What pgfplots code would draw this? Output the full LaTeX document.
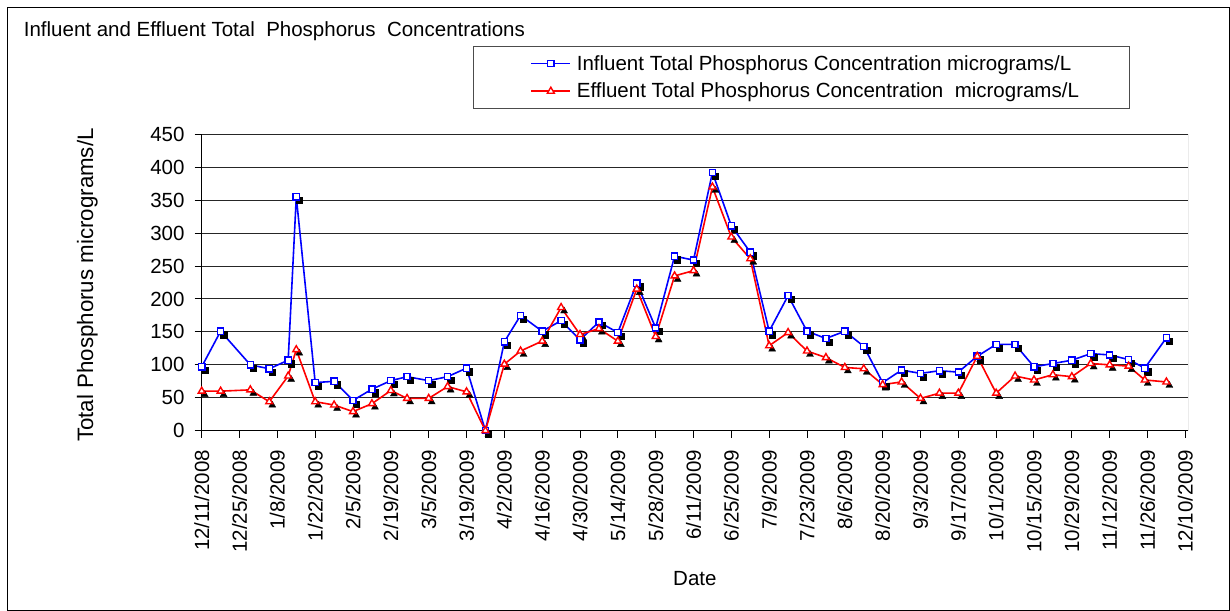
\documentclass[border=0pt]{standalone}
\usepackage{fontspec}
\setmainfont{Liberation Sans}
\usepackage{pgfplots}
\usepackage{pgfplotstable}
\pgfplotsset{compat=1.18}

\definecolor{infblue}{RGB}{0,0,255}
\definecolor{effred}{RGB}{255,0,0}

% day = days after 12/11/2008, inf/eff in micrograms/L
\pgfplotstableread{
day inf eff
0   97  60
7   151 60
18  100 62
25  94  44
32  107 83
35  355 123
42  73  44
49  75  39
56  46  29
63  63  41
70  76  61
76  82  49
84  76  49
91  82  67
98  95  59
105 0   0
112 135 101
118 175 121
126 151 136
133 167 187
140 138 146
147 165 155
154 149 136
161 224 215
168 156 143
175 265 235
182 259 243
189 392 370
196 311 294
203 271 261
210 151 129
217 205 149
224 151 121
231 140 111
238 151 96
245 128 94
252 73  70
259 92  74
266 87  49
273 91  57
280 89  57
287 113 113
294 131 57
301 131 83
308 97  77
315 102 85
322 107 82
329 117 102
336 115 100
343 108 98
349 95  77
357 141 74
}\tpdata

\begin{document}
\begin{tikzpicture}[x=1bp,y=1bp,font=\fontsize{20.5bp}{24bp}\selectfont]
\fill[white] (0,0) rectangle (1230,611);
\draw[black, line width=1bp] (7.5,0.5) rectangle (1229,603.5);
\node[anchor=base west, inner sep=0pt] at (23.7,574.5)
  {Influent and Effluent Total\ \ Phosphorus\ \ Concentrations};

\begin{axis}[
    at={(201.7bp,180.3bp)}, anchor=south west,
    scale only axis, width=986.3bp, height=296.4bp,
    xmin=0, xmax=365, ymin=0, ymax=450,
    axis lines*=left,
    axis line style={-, black, line width=1bp},
    tick align=outside, major tick length=7bp,
    tick style={black, line width=1bp},
    xtick={0,14,...,364},
    xticklabels={12/11/2008,12/25/2008,1/8/2009,1/22/2009,2/5/2009,2/19/2009,
      3/5/2009,3/19/2009,4/2/2009,4/16/2009,4/30/2009,5/14/2009,5/28/2009,
      6/11/2009,6/25/2009,7/9/2009,7/23/2009,8/6/2009,8/20/2009,9/3/2009,
      9/17/2009,10/1/2009,10/15/2009,10/29/2009,11/12/2009,11/26/2009,12/10/2009},
    ytick={0,50,...,450},
    ymajorgrids, grid style={black!85, line width=1bp},
    xticklabel style={rotate=90, anchor=east, inner sep=0pt},
    yticklabel style={inner sep=0pt},
    xticklabel shift=12bp, yticklabel shift=10bp,
    /pgf/number format/assume math mode=true,
    xlabel={Date},
    xlabel style={at={(axis description cs:0.5,-0.5229)}, anchor=base, inner sep=0pt},
    ylabel={Total Phosphorus micrograms/L},
    ylabel style={at={(axis description cs:-0.1102,0.4916)}, anchor=base, inner sep=0pt,
      font=\fontsize{22.3bp}{26bp}\selectfont},
    legend style={at={(axis description cs:0.2754,1.2989)}, anchor=north west,
      draw=black!70, line width=1bp, inner xsep=51bp, inner ysep=9bp,
      row sep=11.5bp, column sep=5.7bp, nodes={inner sep=0pt}},
    legend cell align=left,
    legend image code/.code={
      \path (0bp,0bp);
      \draw[mark repeat=2, mark phase=2, #1] plot coordinates {(5.7bp,0bp) (25.2bp,0bp) (44.7bp,0bp)};},
  ]
  % shadows of the markers
  \addplot[forget plot, draw=none, mark=square*, mark size=3.1bp,
    mark options={fill=black, draw=black, xshift=3bp, yshift=-3.5bp}]
    table[x=day, y=inf]{\tpdata};
  \addplot[forget plot, draw=none, mark=triangle*, mark size=4bp,
    mark options={fill=black, draw=black, xshift=3bp, yshift=-3.5bp}]
    table[x=day, y=eff]{\tpdata};

  \addplot[color=infblue, line width=1.6bp, mark=square*, mark size=3.1bp,
    mark options={fill=white, line width=1.4bp}]
    table[x=day, y=inf]{\tpdata};
  \addlegendentry{Influent Total Phosphorus Concentration micrograms/L}
  \addplot[color=effred, line width=1.6bp, mark=triangle*, mark size=4bp,
    mark options={fill=white, line width=1.4bp}]
    table[x=day, y=eff]{\tpdata};
  \addlegendentry{Effluent Total Phosphorus Concentration\ \ micrograms/L}

  \draw[black!60, line width=1bp] (rel axis cs:1,0) -- (rel axis cs:1,1);
\end{axis}
\end{tikzpicture}
\end{document}
